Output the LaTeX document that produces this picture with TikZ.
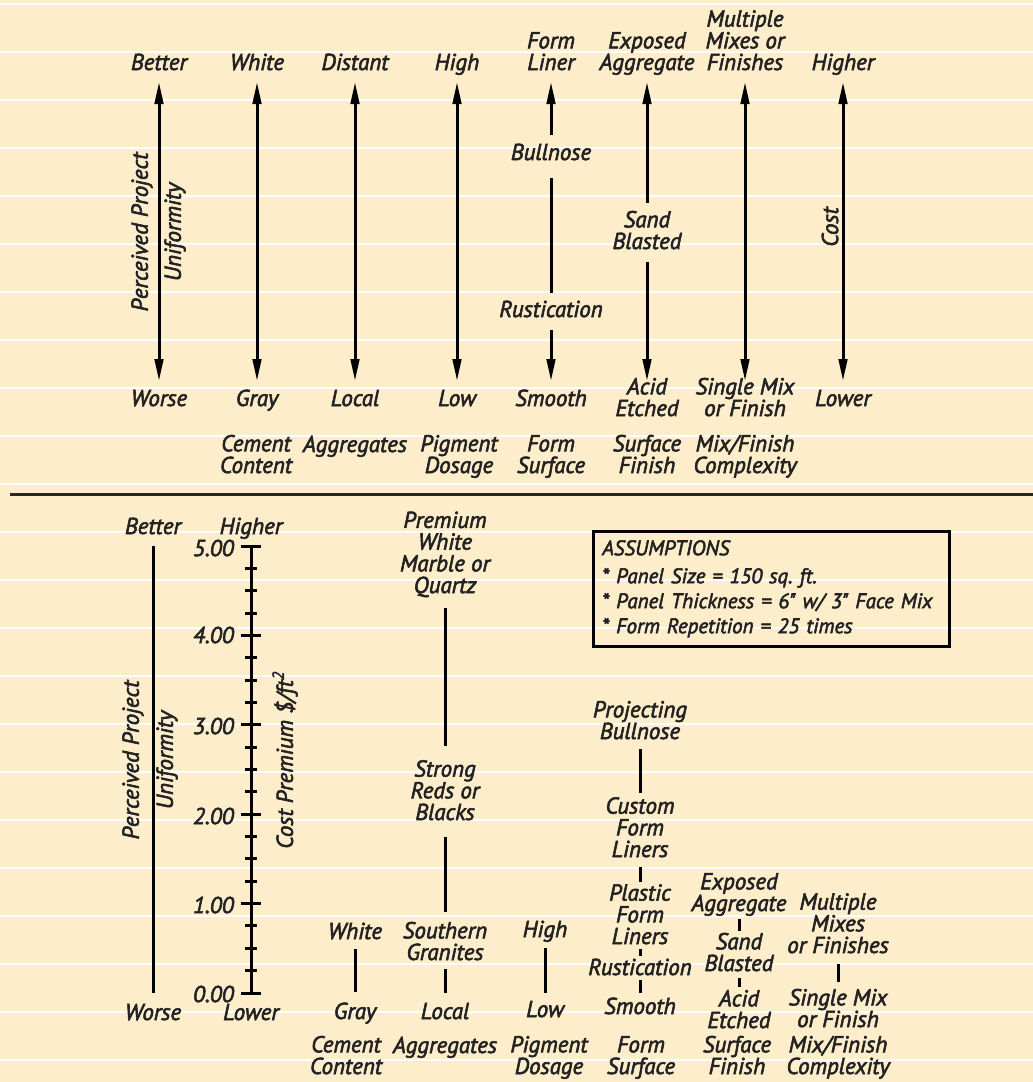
\documentclass[tikz,border=0pt]{standalone}
\usepackage{fontspec}
\newfontfamily\lblfam{PT Sans}[ItalicFeatures={FakeBold=2.5}]
\usetikzlibrary{arrows.meta}
\definecolor{paper}{RGB}{253,237,202}
\definecolor{ink}{RGB}{34,34,34}
\newcommand\lblfont{\lblfam\fontsize{23}{21.7}\selectfont\itshape}
\newcommand\boxfont{\lblfam\fontsize{21}{25}\selectfont\itshape}
\begin{document}
\begin{tikzpicture}[x=1pt,y=-1pt,
  lbl/.style={font=\lblfont, text=ink, align=center, inner sep=0pt, anchor=base},
  rotlbl/.style={font=\lblfont, text=ink, inner sep=0pt, rotate=90, anchor=center},
  conn/.style={draw=black, line width=3pt},
  arrEnd/.style={-{Triangle[length=22pt,width=8.5pt]}},
  arrStart/.style={{Triangle[length=22pt,width=8.5pt]}-},
  arrBoth/.style={{Triangle[length=22pt,width=8.5pt]}-{Triangle[length=22pt,width=8.5pt]}},
  rulestyle/.style={draw=white, line width=1.6pt},
  scaletick/.style={draw=black, line width=3pt}
]
% paper
\fill[paper] (0,0) rectangle (1033,1082);
\useasboundingbox (0,0) rectangle (1033,1082);
\foreach \k in {0,...,22} {\draw[rulestyle] (0,{4+48*\k}) -- (1033,{4+48*\k});}
% divider
\draw[line width=3pt, black!85] (10,494) -- (1033,494);

% ================= TOP SECTION =================
\foreach \n/\x in {1/159,2/257,3/355,4/457,5/551,6/647,7/745,8/843} {
  \coordinate (c\n t) at (\x,82);
  \coordinate (c\n b) at (\x,381);
}
% top labels (anchored at baseline of last line)
\node[lbl] (tbetter)   at (159,70) {Better};
\node[lbl] (twhite)    at (257,70) {White};
\node[lbl] (tdistant)  at (355,70) {Distant};
\node[lbl] (thigh)     at (457,70) {High};
\node[lbl] (tformliner) at (551,70) {Form\\Liner};
\node[lbl] (texposed)  at (647,70) {Exposed\\Aggregate};
\node[lbl] (tmultiple) at (745,70) {Multiple\\Mixes or\\Finishes};
\node[lbl] (thigher)   at (843,70) {Higher};
% bottom labels
\node[lbl] (tworse)  at (159,406) {Worse};
\node[lbl] (tgray)   at (257,406) {Gray};
\node[lbl] (tlocal)  at (355,406) {Local};
\node[lbl] (tlow)    at (457,406) {Low};
\node[lbl] (tsmooth) at (551,406) {Smooth};
\node[lbl] (tacid)   at (647,416) {Acid\\Etched};
\node[lbl] (tsingle) at (745,416) {Single Mix\\or Finish};
\node[lbl] (tlower)  at (843,406) {Lower};
% categories
\node[lbl] (tcement)  at (256,473) {Cement\\Content};
\node[lbl] (taggr)    at (355,452) {Aggregates};
\node[lbl] (tpigment) at (459,473) {Pigment\\Dosage};
\node[lbl] (tformsurf) at (551,473) {Form\\Surface};
\node[lbl] (tsurffin) at (647,473) {Surface\\Finish};
\node[lbl] (tmixfin)  at (745,473) {Mix/Finish\\Complexity};
% middle labels
\node[lbl] (tbull) at (551,160) {Bullnose};
\node[lbl] (trust) at (551,317) {Rustication};
\node[lbl] (tsand) at (647,249) {Sand\\Blasted};
\node[rotlbl] (tperc) at (142,232) {Perceived Project};
\node[rotlbl] (tunif) at (175,232) {Uniformity};
\node[rotlbl] (tcost) at (830,227) {Cost};
% arrows
\foreach \n in {1,2,3,4,7,8} {\draw[conn, arrBoth] (c\n t) -- (c\n b);}
\draw[conn, arrStart, shorten >=8.5pt] (c5t) -- (tbull);
\draw[conn, shorten <=18pt, shorten >=8pt] (tbull) -- (trust);
\draw[conn, arrEnd, shorten <=13pt] (trust) -- (c5b);
\draw[conn, arrStart, shorten >=7.5pt] (c6t) -- (tsand);
\draw[conn, arrEnd, shorten <=13pt] (tsand) -- (c6b);

% ================= BOTTOM SECTION =================
% perceived uniformity
\node[lbl] (bbetter) at (153,534) {Better};
\node[lbl] (bworse)  at (153,1020) {Worse};
\node[rotlbl] (bperc) at (133,760) {Perceived Project};
\node[rotlbl] (bunif) at (167,760) {Uniformity};
\draw[conn, shorten <=12pt, shorten >=11pt] (bbetter) -- (bworse);
% cost scale
\node[lbl] (bhigher) at (251,534) {Higher};
\node[lbl] (blower)  at (251,1020) {Lower};
\coordinate (ax5) at (251,546);
\coordinate (ax0) at (251,993);
\draw[conn] (ax0) -- (ax5);
\foreach \i in {0,...,20} {
  \pgfmathsetmacro\ty{993-\i*22.35}
  \pgfmathtruncatemacro\m{mod(\i,4)}
  \ifnum\m=0
    \draw[scaletick] (241,\ty) -- (261,\ty);
  \else
    \draw[scaletick] (245,\ty) -- (257,\ty);
  \fi
}
\node[lbl, anchor=east] (v5) at (234,548) {5.00};
\node[lbl, anchor=east] (v4) at (234,635) {4.00};
\node[lbl, anchor=east] (v3) at (234,726) {3.00};
\node[lbl, anchor=east] (v2) at (234,816) {2.00};
\node[lbl, anchor=east] (v1) at (234,905) {1.00};
\node[lbl, anchor=east] (v0) at (234,994) {0.00};
\node[rotlbl] (bcost) at (285,760) {Cost Premium \$/ft\textsuperscript{2}};
% cement
\node[lbl] (bwhite)  at (355,939) {White};
\node[lbl] (bgray)   at (355,1019) {Gray};
\node[lbl] (bcement) at (346,1074) {Cement\\Content};
\draw[conn, shorten <=10pt, shorten >=10pt] (bwhite) -- (bgray);
% aggregates
\node[lbl] (bprem)   at (445,593) {Premium\\White\\Marble or\\Quartz};
\node[lbl] (bstrong) at (445,820) {Strong\\Reds or\\Blacks};
\node[lbl] (bsouth)  at (445,960) {Southern\\Granites};
\node[lbl] (blocal)  at (445,1019) {Local};
\node[lbl] (baggr)   at (445,1053) {Aggregates};
\draw[conn, shorten <=11pt, shorten >=14pt] (bprem) -- (bstrong);
\draw[conn, shorten <=17pt, shorten >=9.5pt] (bstrong) -- (bsouth);
\draw[conn, shorten <=9pt, shorten >=9.5pt] (bsouth) -- (blocal);
% pigment
\node[lbl] (bhigh) at (545,937) {High};
\node[lbl] (blow)  at (545,1017) {Low};
\node[lbl] (bpig)  at (549,1074) {Pigment\\Dosage};
\draw[conn, shorten <=6pt, shorten >=8pt] (bhigh) -- (blow);
% form surface
\node[lbl] (bproj)    at (640,739) {Projecting\\Bullnose};
\node[lbl] (bcustom)  at (640,857) {Custom\\Form\\Liners};
\node[lbl] (bplastic) at (640,944) {Plastic\\Form\\Liners};
\node[lbl] (brust)    at (640,975) {Rustication};
\node[lbl] (bsmooth)  at (640,1014) {Smooth};
\node[lbl] (bformsurf) at (641,1074) {Form\\Surface};
\draw[conn, shorten <=10pt, shorten >=4pt] (bproj) -- (bcustom);
\draw[conn, shorten <=10pt, shorten >=2pt] (bcustom) -- (bplastic);
\draw[conn, shorten <=5pt, shorten >=3pt] (bplastic) -- (brust);
\draw[conn, shorten <=5pt, shorten >=4.5pt] (brust) -- (bsmooth);
% surface finish
\node[lbl] (bexposed) at (739,911) {Exposed\\Aggregate};
\node[lbl] (bsand)    at (739,971) {Sand\\Blasted};
\node[lbl] (bacid)    at (739,1028) {Acid\\Etched};
\node[lbl] (bsurf)    at (737,1074) {Surface\\Finish};
\draw[conn, shorten <=3pt, shorten >=2pt] (bexposed) -- (bsand);
\draw[conn, shorten <=7pt, shorten >=2.5pt] (bsand) -- (bacid);
% mix/finish
\node[lbl] (bmult)   at (838,953) {Multiple\\Mixes\\or Finishes};
\node[lbl] (bsingle) at (838,1027) {Single Mix\\or Finish};
\node[lbl] (bmixfin) at (838,1074) {Mix/Finish\\Complexity};
\draw[conn, shorten <=11pt, shorten >=6.5pt] (bmult) -- (bsingle);
% assumptions
\node[draw=black, line width=2.5pt, anchor=north west, inner xsep=9pt, inner ysep=9pt,
      text width=338pt, align=left, font=\boxfont, text=ink]
  (assume) at (592,530)
  {ASSUMPTIONS\\[3pt]{*} Panel Size = 150 sq.\ ft.\\{*} Panel Thickness = 6" w/ 3" Face Mix\\{*} Form Repetition = 25 times};
\end{tikzpicture}
\end{document}
